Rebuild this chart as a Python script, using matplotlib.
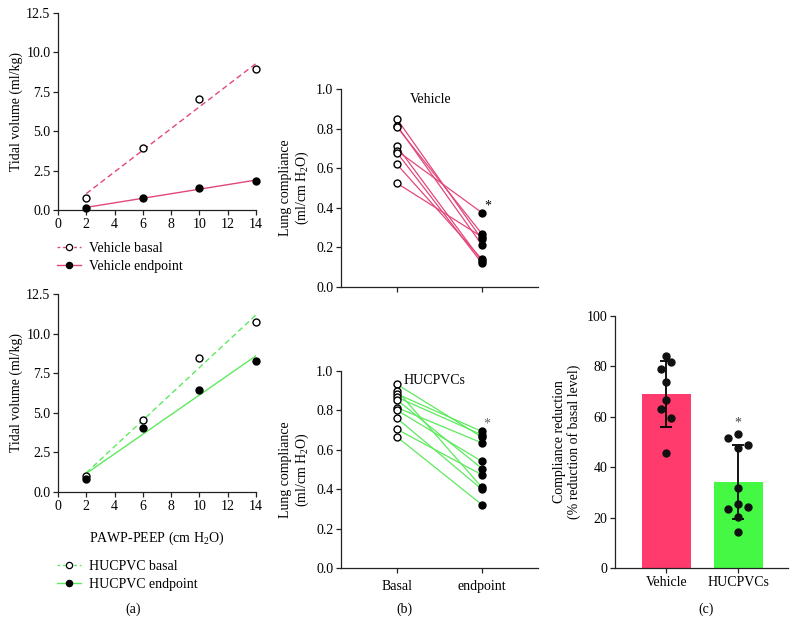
import numpy as np
import matplotlib
matplotlib.use('Agg')
import matplotlib.pyplot as plt
from matplotlib.lines import Line2D
from matplotlib.ticker import FormatStrFormatter

plt.rcParams['font.family'] = ['Liberation Serif', 'DejaVu Serif']
plt.rcParams['mathtext.fontset'] = 'custom'
plt.rcParams['mathtext.rm'] = 'Liberation Serif'
plt.rcParams['font.size'] = 9

# ---------------- data ----------------
pressure = [2, 6, 10, 14]
veh_basal_tv = [0.78, 3.95, 7.02, 8.93]
veh_end_tv = [0.15, 0.74, 1.38, 1.86]
huc_basal_tv = [1.01, 4.52, 8.49, 10.76]
huc_end_tv = [0.80, 4.03, 6.47, 8.24]

comp_cats = ['Basal', 'endpoint']
veh_basal_c = [0.848, 0.815, 0.808, 0.710, 0.688, 0.678, 0.619, 0.524]
veh_end_c = [0.240, 0.212, 0.268, 0.130, 0.375, 0.120, 0.140, 0.253]
huc_basal_c = [0.932, 0.900, 0.883, 0.867, 0.853, 0.814, 0.801, 0.760, 0.704, 0.665]
huc_end_c = [0.664, 0.409, 0.693, 0.676, 0.505, 0.635, 0.541, 0.399, 0.473, 0.321]

groups = ['Vehicle', 'HUCPVCs']
veh_red = [84.0, 81.6, 79.1, 73.8, 66.5, 63.2, 59.4, 45.5]
huc_red = [51.7, 53.0, 48.9, 47.5, 31.9, 23.5, 25.3, 24.1, 20.4, 14.2]
veh_jit = [0, 1, -1, 0, 0, -1, 1, 0]
huc_jit = [-1, 0, 1, 0, 0, -1, 0, 1, 0, 0]

# ---------------- style ----------------
PINK = '#E2477C'
GREEN = '#5EEA5E'
PINK_BAR = '#FF3A6C'
GREEN_BAR = '#44F844'
SPINE = '#222222'

W, H = 796, 636
fig = plt.figure(figsize=(W / 100, H / 100), dpi=100)


def px_axes(left, top, right, bottom):
    return fig.add_axes([left / W, 1 - bottom / H, (right - left) / W, (bottom - top) / H])


def style(ax):
    for s in ['top', 'right']:
        ax.spines[s].set_visible(False)
    for s in ['left', 'bottom']:
        ax.spines[s].set_color(SPINE)
        ax.spines[s].set_linewidth(0.9)
    ax.tick_params(direction='out', length=3.5, width=0.9, color=SPINE,
                   labelsize=10, pad=2)


# ---------------- panel (a) ----------------
def tv_panel(ax, basal, end, color):
    x = np.array(pressure, dtype=float)
    for vals, ls, fc in [(basal, (0, (4, 2.5)), 'white'), (end, '-', 'black')]:
        k, b = np.polyfit(x, vals, 1)
        xx = np.array([x.min(), x.max()])
        ax.plot(xx, k * xx + b, color=color, lw=1.0, ls=ls, zorder=2)
        ax.plot(x, vals, 'o', ms=5.0, mfc=fc, mec='black', mew=1.0, zorder=3,
                clip_on=False)
    ax.set_xlim(0, 14)
    ax.set_ylim(0, 12.5)
    ax.set_xticks(np.arange(0, 15, 2))
    ax.set_yticks(np.arange(0, 12.6, 2.5))
    ax.yaxis.set_major_formatter(FormatStrFormatter('%.1f'))
    ax.set_ylabel('Tidal volume (ml/kg)', fontsize=10, labelpad=2)
    style(ax)


ax_a1 = px_axes(58, 13, 256, 210)
tv_panel(ax_a1, veh_basal_tv, veh_end_tv, PINK)
ax_a2 = px_axes(58, 294, 256, 492)
tv_panel(ax_a2, huc_basal_tv, huc_end_tv, GREEN)
ax_a2.set_xlabel('PAWP-PEEP (cm H$_2$O)', fontsize=10, labelpad=12)


def add_legend(top_px, color, names):
    handles = [
        Line2D([], [], color=color, ls=(0, (2, 2)), lw=1.0, marker='o', ms=4.5,
               mfc='white', mec='black', mew=0.9),
        Line2D([], [], color=color, ls='-', lw=1.0, marker='o', ms=4.5,
               mfc='black', mec='black', mew=0.9),
    ]
    fig.legend(handles, names, loc='upper left',
               bbox_to_anchor=(57 / W, 1 - top_px / H), frameon=False,
               fontsize=10, handlelength=1.7, handletextpad=0.6,
               labelspacing=0.35, borderpad=0, borderaxespad=0)


add_legend(242, PINK, ['Vehicle basal', 'Vehicle endpoint'])
add_legend(560, GREEN, ['HUCPVC basal', 'HUCPVC endpoint'])


# ---------------- panel (b) ----------------
def comp_panel(ax, basal, end, color):
    for b0, e0 in zip(basal, end):
        ax.plot([0, 1], [b0, e0], color=color, lw=0.9, zorder=2)
    ax.plot(np.zeros(len(basal)), basal, 'o', ms=5, mfc='white', mec='black',
            mew=1.0, zorder=3)
    ax.plot(np.ones(len(end)), end, 'o', ms=5, mfc='black', mec='black',
            mew=1.0, zorder=3)
    ax.set_xlim(-0.66, 1.66)
    ax.set_ylim(0, 1.0)
    ax.set_xticks([0, 1])
    ax.set_yticks(np.arange(0, 1.01, 0.2))
    ax.yaxis.set_major_formatter(FormatStrFormatter('%.1f'))
    ax.set_ylabel('Lung compliance\n(ml/cm H$_2$O)', fontsize=10, labelpad=4,
                  linespacing=1.1)
    style(ax)


ax_b1 = px_axes(341, 89, 538, 287)
comp_panel(ax_b1, veh_basal_c, veh_end_c, PINK)
ax_b1.set_xticklabels(['', ''])
ax_b1.text(0.39, 0.945, 'Vehicle', ha='center', va='center', fontsize=10)
ax_b1.text(1.07, 0.41, '*', ha='center', va='center', fontsize=10)

ax_b2 = px_axes(341, 371, 538, 568)
comp_panel(ax_b2, huc_basal_c, huc_end_c, GREEN)
ax_b2.set_xticklabels(comp_cats, fontsize=10)
ax_b2.tick_params(axis='x', pad=5)
ax_b2.text(0.08, 0.95, 'HUCPVCs', ha='left', va='center', fontsize=10)
ax_b2.text(1.06, 0.73, '*', ha='center', va='center', fontsize=10, color='#666666')

# ---------------- panel (c) ----------------
ax_c = px_axes(615, 316, 788, 568)
sets = [veh_red, huc_red]
jits = [veh_jit, huc_jit]
jit_scale = [0.069, 0.139]
cols = [PINK_BAR, GREEN_BAR]
for i, (vals, jit) in enumerate(zip(sets, jits)):
    v = np.array(vals)
    m, sd = v.mean(), v.std(ddof=1)
    ax_c.bar(i, m, width=0.68, color=cols[i], zorder=1)
    ax_c.errorbar(i, m, yerr=sd, fmt='none', ecolor='black', elinewidth=1.3,
                  capsize=4.5, capthick=1.3, zorder=2)
    ax_c.plot(i + np.array(jit) * jit_scale[i], v, 'o', ms=5, color='#111111',
              zorder=3)
ax_c.text(1, 57.5, '*', ha='center', va='center', fontsize=10, color='#444444')
ax_c.set_xlim(-0.71, 1.69)
ax_c.set_ylim(0, 100)
ax_c.set_xticks([0, 1])
ax_c.set_xticklabels(groups, fontsize=10)
ax_c.tick_params(axis='x', pad=7)
ax_c.set_yticks(np.arange(0, 101, 20))
ax_c.set_ylabel('Compliance reduction\n(% reduction of basal level)', fontsize=10,
                labelpad=4, linespacing=1.1)
style(ax_c)

# ---------------- panel letters ----------------
fig.text(133 / W, 1 - 609 / H, '(a)', ha='center', va='center', fontsize=10)
fig.text(404 / W, 1 - 609 / H, '(b)', ha='center', va='center', fontsize=10)
fig.text(706 / W, 1 - 609 / H, '(c)', ha='center', va='center', fontsize=10)

fig.savefig('out.png', dpi=100)
